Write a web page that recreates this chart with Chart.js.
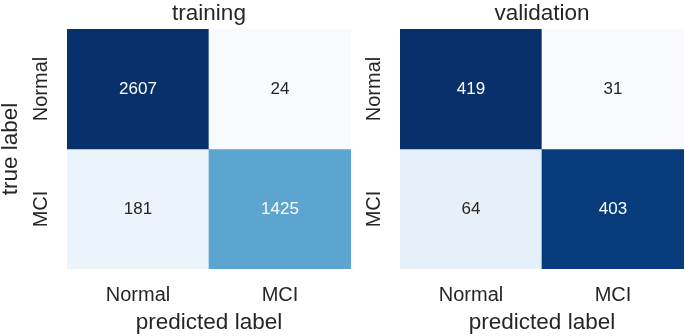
<!DOCTYPE html>
<html>
<head>
<meta charset="utf-8">
<script src="https://cdn.jsdelivr.net/npm/chart.js@4/dist/chart.umd.min.js"></script>
<style>
  body { margin: 0; background: #fff; }
  .box { position: absolute; top: 0; height: 336px; }
</style>
</head>
<body>
<div class="box" style="left:0;width:352px"><canvas id="trainChart"></canvas></div>
<div class="box" style="left:352px;width:333px"><canvas id="valChart"></canvas></div>
<script>
// class names, used for both axes
const classLabels = ['Normal', 'MCI'];

// confusion matrix rows (true label), columns = predicted label
const trainNormal = [2607, 24];
const trainMCI = [181, 1425];
const valNormal = [419, 31];
const valMCI = [64, 403];

// matplotlib "Blues" colormap stops
const blues = ['#f7fbff', '#deebf7', '#c6dbef', '#9ecae1', '#6baed6', '#4292c6', '#2171b5', '#08519c', '#08306b'];

const textColor = '#262626';
const font = 'Liberation Sans, Arial, sans-serif';

function hexToRgb(h) {
  return [parseInt(h.slice(1, 3), 16), parseInt(h.slice(3, 5), 16), parseInt(h.slice(5, 7), 16)];
}

function bluesColor(t) {
  t = Math.max(0, Math.min(1, t));
  let pos = t * (blues.length - 1);
  let i = Math.min(Math.floor(pos), blues.length - 2);
  let f = pos - i;
  let a = hexToRgb(blues[i]), b = hexToRgb(blues[i + 1]);
  let c = a.map((v, k) => Math.round(v + (b[k] - v) * f));
  return 'rgb(' + c.join(',') + ')';
}

// writes the count in the middle of every cell
const cellText = {
  id: 'cellText',
  afterDatasetsDraw(chart) {
    const ctx = chart.ctx;
    const opts = chart.options.plugins.cellText;
    ctx.save();
    ctx.font = '17px ' + font;
    ctx.textAlign = 'center';
    ctx.textBaseline = 'middle';
    chart.data.datasets.forEach((ds, di) => {
      chart.getDatasetMeta(di).data.forEach((bar, j) => {
        let v = ds.counts[j];
        let t = (v - opts.min) / (opts.max - opts.min);
        ctx.fillStyle = t > 0.5 ? '#ffffff' : textColor;
        let p = bar.getCenterPoint();
        ctx.fillText(String(v), p.x, p.y);
      });
    });
    ctx.restore();
  }
};

function makeMatrix(id, title, rowNormal, rowMCI, showYTitle, yWidth) {
  const all = rowNormal.concat(rowMCI);
  const min = Math.min(...all), max = Math.max(...all);
  const rows = [
    { counts: rowNormal, range: [1, 2] },
    { counts: rowMCI, range: [0, 1] }
  ];
  const ctx = document.getElementById(id).getContext('2d');
  return new Chart(ctx, {
    type: 'bar',
    data: {
      labels: classLabels,
      datasets: rows.map(r => ({
        counts: r.counts,
        data: r.counts.map(() => r.range),
        backgroundColor: r.counts.map(v => bluesColor((v - min) / (max - min))),
        borderWidth: 0,
        borderSkipped: false,
        barPercentage: 1,
        categoryPercentage: 1
      }))
    },
    options: {
      responsive: true,
      maintainAspectRatio: false,
      animation: false,
      layout: { padding: { left: 0, right: 1, top: 0, bottom: 0 } },
      plugins: {
        legend: { display: false },
        tooltip: { enabled: false },
        title: {
          display: true,
          text: title,
          fullSize: false,
          color: textColor,
          font: { family: font, size: 22.5, weight: 'normal', lineHeight: 1.2 },
          padding: { top: 0, bottom: 2 }
        },
        cellText: { min: min, max: max }
      },
      scales: {
        x: {
          stacked: true,
          grid: { display: false, drawTicks: false },
          border: { display: false },
          ticks: { color: textColor, font: { family: font, size: 20 }, padding: 14 },
          title: {
            display: true,
            text: 'predicted label',
            color: textColor,
            font: { family: font, size: 22.5 },
            padding: { top: 0, bottom: 0 }
          },
          afterFit: s => { s.height = 67; }
        },
        y: {
          min: 0,
          max: 2,
          grid: { display: false, drawTicks: false },
          border: { display: false },
          afterBuildTicks: s => { s.ticks = [{ value: 0.5 }, { value: 1.5 }]; },
          ticks: {
            color: textColor,
            font: { family: font, size: 20 },
            minRotation: 90,
            maxRotation: 90,
            crossAlign: 'center',
            padding: -7,
            callback: v => (v > 1 ? classLabels[0] : classLabels[1])
          },
          title: {
            display: showYTitle,
            text: 'true label',
            color: textColor,
            font: { family: font, size: 22.5, lineHeight: 1 },
            padding: { top: 0, bottom: 0 }
          },
          afterFit: s => { s.width = yWidth; }
        }
      }
    },
    plugins: [cellText]
  });
}

makeMatrix('trainChart', 'training', trainNormal, trainMCI, true, 67);
makeMatrix('valChart', 'validation', valNormal, valMCI, false, 48);
</script>
</body>
</html>
